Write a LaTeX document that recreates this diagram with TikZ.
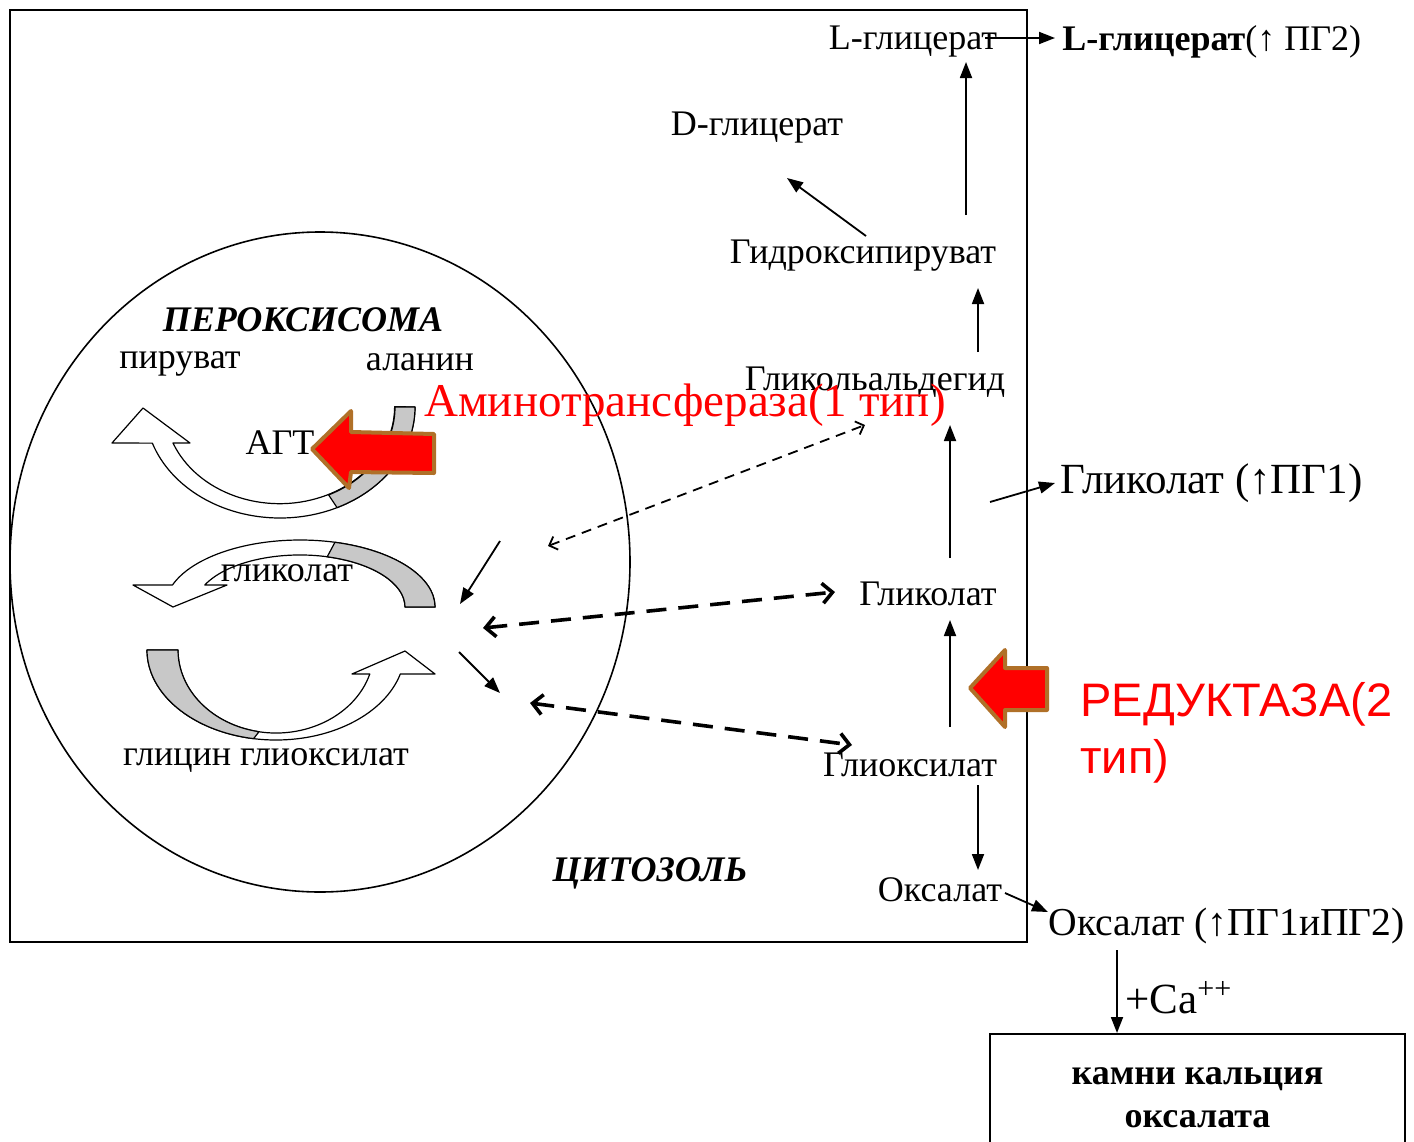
\documentclass[tikz,border=0pt]{standalone}
\usepackage{fontspec}
\setmainfont{Liberation Serif}
\newfontfamily\redsansfont{Liberation Sans}
\usetikzlibrary{arrows.meta}
\definecolor{redfill}{RGB}{255,0,0}
\definecolor{rededge}{RGB}{176,112,40}
\definecolor{bandgrey}{RGB}{200,200,200}
\tikzset{
  txt/.style={inner sep=0pt,font=\fontsize{18}{21}\selectfont},
  txtbig/.style={inner sep=0pt,font=\fontsize{21.5}{25}\selectfont},
  zone/.style={inner sep=0pt,font=\fontsize{18}{21}\selectfont\bfseries\itshape},
  enzyme/.style={inner sep=0pt,text=red,font=\fontsize{23.5}{28}\selectfont},
  enzymesans/.style={inner sep=0pt,text=red,align=left,font=\redsansfont\fontsize{23.5}{28.5}\selectfont},
  stonebox/.style={draw,line width=0.8pt,minimum width=207.5pt,minimum height=64pt,align=center,
    font=\fontsize{18}{21.5}\selectfont\bfseries},
  flow/.style={line width=0.9pt,-{Triangle[length=8pt,width=6pt]}},
  exch/.style={line width=1.8pt,dash pattern=on 10pt off 6pt,
    {Straight Barb[length=5pt,width=10pt]}-{Straight Barb[length=5pt,width=10pt]}},
  exchthin/.style={line width=0.9pt,dash pattern=on 5pt off 3.5pt,
    {Straight Barb[length=3.5pt,width=7pt]}-{Straight Barb[length=3.5pt,width=7pt]}},
  band/.style={draw=black,line width=0.6pt,fill=white,line join=round},
  block/.style={fill=redfill,draw=rededge,line width=2pt,line join=round},
}
\begin{document}
\begin{tikzpicture}[x=0.5pt,y=-0.5pt]
\useasboundingbox (0,0) rectangle (1414,1141);
% cell and peroxisome
\draw[line width=1pt] (10,10) rectangle (1027,942);
\draw[line width=0.8pt] (320,562) ellipse [x radius=310,y radius=330];

% curved arrows of the three transaminations
\draw[band] (415,407) arc[start angle=0,end angle=161,x radius=135,y radius=111]
  -- (112,443) -- (143,408) -- (190,443) -- (173,443)
  arc[start angle=158,end angle=0,x radius=115,y radius=97] -- cycle;
\draw[band,fill=bandgrey] (415,407) arc[start angle=0,end angle=65,x radius=135,y radius=111]
  -- (328.6,494.9) arc[start angle=65,end angle=0,x radius=115,y radius=97] -- cycle;

\draw[band] (435,607) arc[start angle=360,end angle=199.2,x radius=135,y radius=67]
  -- (133,585) -- (173,607) -- (227,585) -- (204.8,585)
  arc[start angle=205,end angle=360,x radius=105,y radius=52] -- cycle;
\draw[band,fill=bandgrey] (435,607) arc[start angle=360,end angle=285,x radius=135,y radius=67]
  -- (327.2,556.8) arc[start angle=285,end angle=360,x radius=105,y radius=52] -- cycle;

\draw[band] (147,650) arc[start angle=180,end angle=15.5,x radius=129,y radius=90]
  -- (435,674) -- (405,651) -- (352,674) -- (369.8,674)
  arc[start angle=16.8,end angle=180,x radius=98,y radius=83] -- cycle;
\draw[band,fill=bandgrey] (147,650) arc[start angle=180,end angle=100,x radius=129,y radius=90]
  -- (259.0,731.7) arc[start angle=100,end angle=180,x radius=98,y radius=83] -- cycle;

% enzyme markers
\draw[block] (312,449) -- (351,411) -- (351,432) -- (434,434) -- (434,473) -- (351,472) -- (349,488) -- cycle;
\draw[block] (970,688) -- (1005,650) -- (1005,668) -- (1047,668) -- (1047,710) -- (1005,710) -- (1005,727) -- cycle;

% peroxisome labels
\node[zone] (perox) at (303,320) {ПЕРОКСИСОМА};
\node[txt] (pyr) at (180,364) {пируват};
\node[txt] (ala) at (420,362) {аланин};
\node[txt] (agt) at (280,443) {АГТ};
\node[txt] (glcin) at (287,573) {гликолат};
\node[txt] (glyglx) at (266,760) {глицин глиоксилат};
\node[zone] (cyto) at (650,873) {ЦИТОЗОЛЬ};

% cytosol pathway
\node[txt] (lgly) at (913,42) {L-глицерат};
\node[txt,anchor=west] (lglyout) at (1062,42) {\textbf{L-глицерат}(↑ ПГ2)};
\node[txt] (dgly) at (757,128) {D-глицерат};
\node[txt] (hpyr) at (863,256) {Гидроксипируват};
\node[txt] (galdeh) at (875,382) {Гликольальдегид};
\node[txtbig,anchor=west] (glcout) at (1060,483) {Гликолат (↑ПГ1)};
\node[txt] (glc) at (928,594) {Гликолат};
\node[txt] (glx) at (910,765) {Глиоксилат};
\node[txt] (oxa) at (940,890) {Оксалат};
\node[txtbig,anchor=west,font=\fontsize{19.8}{24}\selectfont] (oxaout) at (1048,926) {Оксалат (↑ПГ1иПГ2)};
\node[txtbig,anchor=west] (ca) at (1125,998) {+Ca\textsuperscript{++}};
\node[stonebox,anchor=north] (stones) at (1197.5,1033) {камни кальция\\оксалата};

\coordinate (glcleave) at (990,502);
\coordinate (pxA) at (548,546);
\coordinate (pxB) at (483,628);
\coordinate (pxC) at (530,703);
\coordinate (inT) at (500,541);
\coordinate (inTend) at (460,604);
\coordinate (outB) at (459,652);
\coordinate (outBend) at (500,693);
\coordinate (caTop) at ([shift={(69,24)}]oxaout.west);

\draw[flow] ([shift={(103,-41)}]hpyr.center) -- ([shift={(53,20)}]lgly.center);
\draw[flow] ([shift={(72,-4)}]lgly.center) -- ([shift={(-7,-4)}]lglyout.west);
\draw[flow] ([shift={(3,-20)}]hpyr.center) -- ([shift={(30,50)}]dgly.center);
\draw[flow] ([shift={(103,-30)}]galdeh.center) -- ([shift={(115,32)}]hpyr.center);
\draw[flow] ([shift={(22,-36)}]glc.center) -- ([shift={(75,43)}]galdeh.center);
\draw[flow] (glcleave) -- ([shift={(-5,0)}]glcout.west);
\draw[flow] ([shift={(40,-38)}]glx.center) -- ([shift={(22,26)}]glc.center);
\draw[flow] ([shift={(68,20)}]glx.center) -- ([shift={(38,-20)}]oxa.center);
\draw[flow] ([shift={(65,3)}]oxa.center) -- ([shift={(0,-14)}]oxaout.west);
\draw[flow] (caTop) -- (caTop |- stones.north);
\draw[flow] (inT) -- (inTend);
\draw[flow] (outB) -- (outBend);

% transport across the membrane
\draw[exchthin] (pxA) -- ([shift={(-10,43)}]galdeh.center);
\draw[exch] (pxB) -- ([shift={(-93,-2)}]glc.center);
\draw[exch] (pxC) -- ([shift={(-58,-20)}]glx.center);

% enzyme names
\node[enzyme] (amino) at (685,405) {Аминотрансфераза(1 тип)};
\node[enzymesans,anchor=west] (reduct) at (1080,733) {РЕДУКТАЗА(2\\тип)};
\end{tikzpicture}
\end{document}
